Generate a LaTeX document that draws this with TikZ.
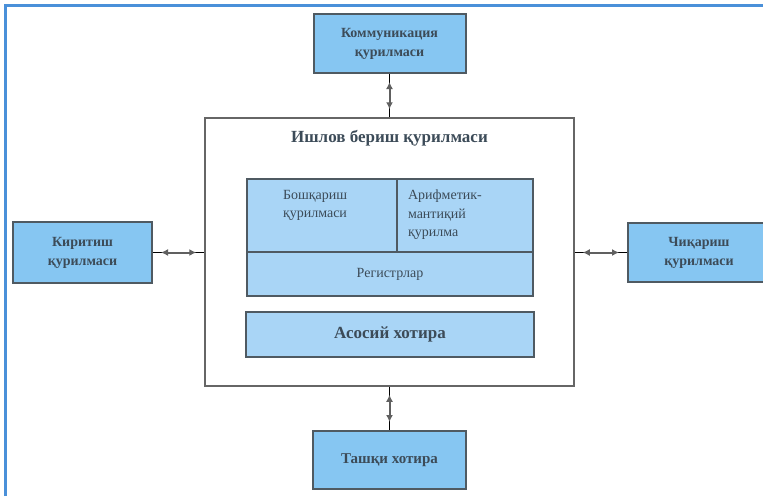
\documentclass[tikz,border=0pt]{standalone}
\usepackage{fontspec}
\setmainfont{Liberation Serif}
\usetikzlibrary{arrows.meta}

\definecolor{framebl}{HTML}{4A90D9}
\definecolor{unitbl}{HTML}{86C6F2}
\definecolor{cellbl}{HTML}{A9D5F6}
\definecolor{edgegr}{HTML}{4F5A62}
\definecolor{textgr}{HTML}{3C4B58}

\tikzset{
    unit/.style={draw=edgegr, line width=2pt, fill=unitbl, text=textgr,
        font=\fontsize{14}{19}\selectfont\bfseries, align=center, inner sep=0pt},
    cell/.style={draw=edgegr, line width=1.8pt, fill=cellbl, text=textgr,
        font=\fontsize{14}{18.5}\selectfont, align=left, inner sep=0pt},
    link/.style={draw=gray!75!black, line width=2pt,
        {Latex[length=7pt,width=7pt]}-{Latex[length=7pt,width=7pt]},
        shorten <=8pt, shorten >=8pt,
        preaction={draw, -, shorten <=0pt, shorten >=0pt}}
}

\begin{document}
\begin{tikzpicture}[x=1pt,y=-1pt]
    \useasboundingbox (0,0) rectangle (763,496);
    \clip (0,0) rectangle (763,496);
    \fill[white] (0,0) rectangle (763,496);

    % frame of the figure
    \draw[framebl, line width=3pt] (5.5,496) -- (5.5,5.5) -- (763,5.5);

    % processing unit and its parts
    \node[draw=gray!80!black, line width=1.5pt, minimum width=369pt, minimum height=268pt,
        inner sep=0pt] (proc) at (389.5,252) {};
    \node[text=textgr, font=\fontsize{17}{19}\selectfont\bfseries] (title) at (389.5,138)
        {Ишлов бериш қурилмаси};

    \node[cell, minimum width=150pt, minimum height=73pt,
        label={[cell, draw=none, fill=none, anchor=north west, xshift=36pt, yshift=-11pt]north west:Бошқариш\\қурилмаси}]
        (ctrl) at (322,215.5) {};
    \node[cell, minimum width=136pt, minimum height=73pt,
        label={[cell, draw=none, fill=none, anchor=north west, xshift=11pt, yshift=-11pt]north west:Арифметик-\\мантиқий\\қурилма}]
        (alu) at (465,215.5) {};
    \node[cell, minimum width=286pt, minimum height=44pt] (regs) at (390,274) {Регистрлар};

    \node[cell, minimum width=288pt, minimum height=45pt,
        font=\fontsize{17}{19}\selectfont\bfseries] (mem) at (390,334.5) {Асосий хотира};

    % outer devices
    \node[unit, minimum width=152pt, minimum height=59pt] (comm) at (389.5,43.5) {Коммуникация\\қурилмаси};
    \node[unit, minimum width=139pt, minimum height=61pt] (inp) at (82.5,252.5) {Киритиш\\қурилмаси};
    \node[unit, minimum width=142pt, minimum height=59pt] (out) at (699,252.5) {Чиқариш\\қурилмаси};
    \node[unit, minimum width=153pt, minimum height=58pt, font=\fontsize{15}{17}\selectfont\bfseries]
        (ext) at (389.5,460) {Ташқи хотира};

    % connections
    \draw[link] (comm) -- (proc);
    \draw[link] (inp.east) -- (inp.east -| proc.west);
    \draw[link] (proc.east |- out.west) -- (out.west);
    \draw[link] (proc) -- (ext);

\end{tikzpicture}
\end{document}
